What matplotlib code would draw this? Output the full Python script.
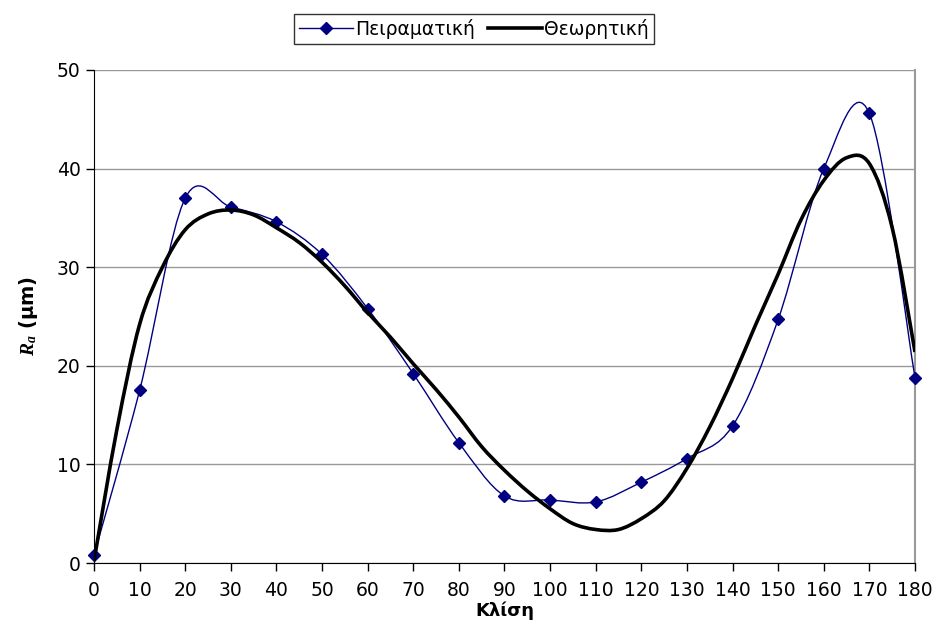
import numpy as np
import matplotlib
matplotlib.use("Agg")
import matplotlib.pyplot as plt
from matplotlib.path import Path
from matplotlib.patches import PathPatch
from matplotlib.lines import Line2D

plt.rcParams['font.family'] = ['DejaVu Sans']
plt.rcParams['mathtext.fontset'] = 'custom'
plt.rcParams['mathtext.it'] = 'Liberation Serif:italic:bold'
plt.rcParams['mathtext.rm'] = 'DejaVu Sans:bold'

# Experimental measurements (every 10 degrees)
angle_exp = [0, 10, 20, 30, 40, 50, 60, 70, 80, 90, 100, 110, 120, 130, 140, 150, 160, 170, 180]
ra_exp = [0.8, 17.5, 37.0, 36.1, 34.6, 31.3, 25.8, 19.2, 12.2, 6.8, 6.4, 6.2, 8.2, 10.6, 13.9, 24.7, 40.0, 45.6, 18.8]

# Theoretical curve (every 5 degrees)
angle_th = list(range(0, 185, 5))
ra_th = [0.2, 13.5, 24.2, 30.0, 33.8, 35.4, 35.8, 35.3, 34.0, 32.5, 30.5, 28.1, 25.4,
         22.9, 20.2, 17.6, 14.8, 11.8, 9.4, 7.3, 5.5, 4.0, 3.4, 3.4, 4.5, 6.3, 9.6,
         13.8, 18.7, 24.1, 29.3, 34.8, 38.8, 41.1, 40.5, 34.0, 21.4]


def smooth_path(xs, ys):
    # Excel-like smoothed line: cubic Bezier segments (Catmull-Rom control points)
    pts = np.column_stack([xs, ys]).astype(float)
    verts = [pts[0]]
    codes = [Path.MOVETO]
    n = len(pts)
    for i in range(n - 1):
        p_prev = pts[i - 1] if i > 0 else pts[i]
        p_next = pts[i + 2] if i + 2 < n else pts[i + 1]
        c1 = pts[i] + (pts[i + 1] - p_prev) / 6.0
        c2 = pts[i + 1] - (p_next - pts[i]) / 6.0
        verts += [c1, c2, pts[i + 1]]
        codes += [Path.CURVE4] * 3
    return Path(verts, codes)


fig = plt.figure(figsize=(9.4, 6.42), dpi=100)
ax = fig.add_axes([0.1, 0.123, 0.8734, 0.768])

ax.add_patch(PathPatch(smooth_path(angle_exp, ra_exp), fill=False,
                       edgecolor='#000080', lw=1.0, zorder=3))
ax.plot(angle_exp, ra_exp, ls='none', marker='D', color='#000080',
        markersize=6.5, zorder=4, clip_on=False)
ax.add_patch(PathPatch(smooth_path(angle_th, ra_th), fill=False,
                       edgecolor='black', lw=2.6, zorder=5, capstyle='butt'))

ax.set_xlim(0, 180)
ax.set_ylim(0, 50)
ax.set_xticks(range(0, 190, 10))
ax.set_yticks(range(0, 60, 10))
ax.yaxis.grid(True, color='#999999', lw=1)
ax.set_axisbelow(True)
ax.tick_params(labelsize=13.5, length=6, direction='out', width=1)
ax.tick_params(axis='x', pad=7)
ax.spines['top'].set_visible(False)
ax.spines['right'].set_color('#999999')
ax.spines['right'].set_linewidth(1.5)

ax.set_xlabel('Κλίση', fontsize=13, fontweight='bold', labelpad=1)
ax.set_ylabel(r'$R_a$ (μm)', fontsize=14, fontweight='bold', labelpad=12)

handles = [Line2D([], [], color='#000080', lw=1.0, marker='D', markersize=6.5),
           Line2D([], [], color='black', lw=2.6)]
leg = fig.legend(handles, ['Πειραματική', 'Θεωρητική'], loc='center',
                 bbox_to_anchor=(0.504, 0.955), ncol=2, fontsize=13.5,
                 frameon=True, fancybox=False, edgecolor='black',
                 handlelength=2.9, handletextpad=0.1, columnspacing=0.7,
                 borderpad=0.25, borderaxespad=0)
leg.get_frame().set_linewidth(1.0)

fig.savefig('out.png', dpi=100)
